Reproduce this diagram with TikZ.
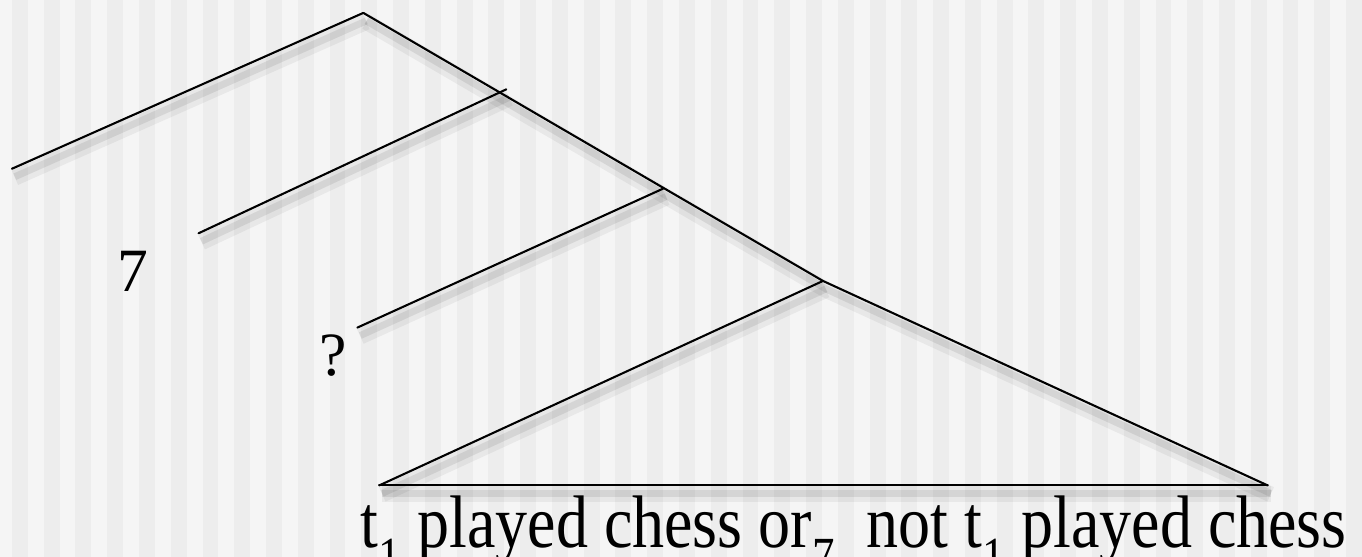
\documentclass[tikz,border=0pt]{standalone}
\usepackage{fontspec}
\setmainfont{Liberation Serif}
\definecolor{stripelight}{HTML}{F5F5F5}
\definecolor{stripedark}{HTML}{EDEDED}

\begin{document}
\begin{tikzpicture}[
		x=1pt, y=-1pt,
		branch/.style={line width=2.1pt, line cap=round,
			preaction={draw=black, opacity=0.05, line width=16pt, transform canvas={shift={(3pt,-9pt)}}},
			preaction={draw=black, opacity=0.08, line width=7pt, transform canvas={shift={(3pt,-8pt)}}}},
		label/.style={anchor=base, inner sep=0pt, font=\fontsize{62}{66}\selectfont}
		]
		
		% Background stripes
		\fill[stripelight] (0,0) rectangle (1362,561);
		\foreach \x in {12,44,...,1356}
			\fill[stripedark] (\x,0) rectangle (\x+16,561);
		\useasboundingbox (0,0) rectangle (1362,561);
		
		% Points of the tree
		\coordinate (top) at (366,13);
		\coordinate (leftA) at (12,170);
		\coordinate (leftB) at (200,235);
		\coordinate (endB) at (510,90);
		\coordinate (leftC) at (360,330);
		\coordinate (knotC) at (668,190);
		\coordinate (knotD) at (829,283);
		\coordinate (baseL) at (382,489);
		\coordinate (baseR) at (1277,489);
		
		% Draw the spine
		\draw[branch] (top) -- (knotD) -- (baseR);
		
		% Draw the branches
		\draw[branch] (leftA) -- (top);
		\draw[branch] (leftB) -- (endB);
		\draw[branch] (leftC) -- (knotC);
		\draw[branch] (baseL) -- (knotD);
		\draw[branch] (baseL) -- (baseR);
		
		% Labels
		\node[label] (seven) at (134,294) {7};
		\node[label] (query) at (336,378) {?};
		\node[anchor=base, inner sep=0pt, xscale=0.86, font=\fontsize{75}{80}\selectfont] (clause) at (860,552)
			{t\textsubscript{1} played chess or\textsubscript{7}\ \ not t\textsubscript{1} played chess};
		
	\end{tikzpicture}
\end{document}
